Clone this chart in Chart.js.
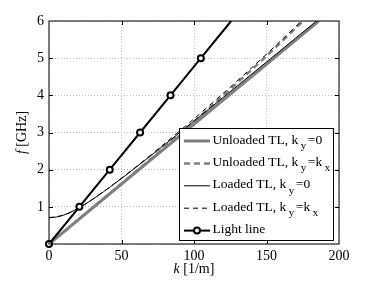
<!DOCTYPE html>
<html>
<head>
<meta charset="utf-8">
<script src="https://cdn.jsdelivr.net/npm/chart.js@4.4.0/dist/chart.umd.min.js"></script>
<style>
html, body { margin: 0; padding: 0; background: #fff; }
#wrap { width: 374px; height: 281px; }
</style>
</head>
<body>
<div id="wrap"><canvas id="plot"></canvas></div>
<script>
// --- data ---
const kUnloaded = [0, 186];
const fUnloaded = [0, 6];

const kUnloadedDiag = [0, 20, 40, 60, 80, 100, 120, 140, 160, 176];
const fUnloadedDiag = [0, 0.646, 1.296, 1.952, 2.616, 3.293, 3.985, 4.696, 5.427, 6.03];

const kLoaded = [0, 5, 10, 15, 20, 25, 30, 40, 50, 60, 70, 80, 100, 120, 140, 160, 180, 186];
const fLoaded = [0.707, 0.725, 0.777, 0.857, 0.958, 1.073, 1.2, 1.473, 1.763, 2.063, 2.369, 2.679, 3.307, 3.94, 4.577, 5.216, 5.857, 6.049];

const kLoadedDiag = [0, 10, 20, 30, 40, 60, 80, 100, 120, 140, 160, 176];
const fLoadedDiag = [0.707, 0.777, 0.958, 1.201, 1.476, 2.076, 2.71, 3.368, 4.047, 4.749, 5.473, 6.071];

const kLight = [0, 20.94, 41.89, 62.83, 83.78, 104.72, 125.66];
const fLight = [0, 1, 2, 3, 4, 5, 6];

const seriesNames = [
    'Unloaded TL, k_y=0',
    'Unloaded TL, k_y=k_x',
    'Loaded TL, k_y=0',
    'Loaded TL, k_y=k_x',
    'Light line'
];

const SERIF = '"Liberation Serif", "Times New Roman", serif';
const GRAY = '#7f7f7f';

function toPoints(xs, ys) {
    return xs.map((x, i) => ({ x: x, y: ys[i] }));
}

// text with "_c" subscripts, left aligned at x, vertically centred at y
function drawRich(ctx, str, x, y) {
    const parts = str.split(/_(.)/);
    ctx.textBaseline = 'middle';
    ctx.textAlign = 'left';
    parts.forEach((p, i) => {
        if (i % 2 === 0) {
            ctx.font = '13.5px ' + SERIF;
            ctx.fillText(p, x, y);
            x += ctx.measureText(p).width;
        } else {
            x += 2.5;
            ctx.font = '11px ' + SERIF;
            ctx.fillText(p, x, y + 6);
            x += ctx.measureText(p).width + 1.5;
        }
    });
}

const extrasPlugin = {
    id: 'extras',
    afterDraw(chart) {
        const { ctx, chartArea: a, scales } = chart;
        const xs = scales.x, ys = scales.y;
        ctx.save();

        // axes box + inward ticks
        ctx.strokeStyle = '#000';
        ctx.lineWidth = 1;
        ctx.strokeRect(a.left, a.top, a.right - a.left, a.bottom - a.top);
        ctx.beginPath();
        [50, 100, 150].forEach(v => {
            const px = Math.round(xs.getPixelForValue(v)) + 0.5;
            ctx.moveTo(px, a.bottom); ctx.lineTo(px, a.bottom - 4);
            ctx.moveTo(px, a.top); ctx.lineTo(px, a.top + 4);
        });
        [1, 2, 3, 4, 5].forEach(v => {
            const py = Math.round(ys.getPixelForValue(v)) + 0.5;
            ctx.moveTo(a.left, py); ctx.lineTo(a.left + 4, py);
            ctx.moveTo(a.right, py); ctx.lineTo(a.right - 4, py);
        });
        ctx.stroke();

        // axis titles, italic variable + upright unit
        ctx.fillStyle = '#000';
        ctx.textBaseline = 'middle';
        ctx.textAlign = 'left';
        const title = (sym, unit, cx, cy, rot) => {
            ctx.save();
            ctx.translate(cx, cy);
            ctx.rotate(rot);
            ctx.font = 'italic 14px ' + SERIF;
            const w1 = ctx.measureText(sym).width;
            ctx.font = '14px ' + SERIF;
            const w2 = ctx.measureText(unit).width;
            let x0 = -(w1 + w2) / 2;
            ctx.font = 'italic 14px ' + SERIF;
            ctx.fillText(sym, x0, 0);
            ctx.font = '14px ' + SERIF;
            ctx.fillText(unit, x0 + w1, 0);
            ctx.restore();
        };
        title('k', ' [1/m]', (a.left + a.right) / 2, 269, 0);
        title('f', ' [GHz]', 22, (a.top + a.bottom) / 2, -Math.PI / 2);

        // legend
        const lx = 179, ly = 128, lw = 154, lh = 112;
        ctx.fillStyle = '#fff';
        ctx.fillRect(lx, ly, lw, lh);
        ctx.strokeStyle = '#000';
        ctx.lineWidth = 1;
        ctx.strokeRect(lx + 0.5, ly + 0.5, lw, lh);
        chart.data.datasets.forEach((ds, i) => {
            const cy = 140 + i * 22.4;
            ctx.save();
            ctx.strokeStyle = ds.borderColor;
            ctx.lineWidth = ds.borderWidth;
            ctx.setLineDash(ds.borderDash || []);
            ctx.beginPath();
            ctx.moveTo(184, cy + 1);
            ctx.lineTo(210, cy + 1);
            ctx.stroke();
            if (ds.pointStyleLegend) {
                ctx.setLineDash([]);
                ctx.fillStyle = '#fff';
                ctx.lineWidth = 2;
                ctx.beginPath();
                ctx.arc(197, cy + 1, 3, 0, Math.PI * 2);
                ctx.fill();
                ctx.stroke();
            }
            ctx.restore();
            ctx.fillStyle = '#000';
            drawRich(ctx, ds.label, 212.5, cy);
        });

        ctx.restore();
    }
};

new Chart(document.getElementById('plot'), {
    type: 'line',
    data: {
        datasets: [
            {
                label: seriesNames[0],
                data: toPoints(kUnloaded, fUnloaded),
                borderColor: GRAY, borderWidth: 3,
                pointRadius: 0, order: 5
            },
            {
                label: seriesNames[1],
                data: toPoints(kUnloadedDiag, fUnloadedDiag),
                borderColor: GRAY, borderWidth: 2.5, borderDash: [6, 4],
                pointRadius: 0, order: 4
            },
            {
                label: seriesNames[2],
                data: toPoints(kLoaded, fLoaded),
                borderColor: '#000', borderWidth: 1, tension: 0.3,
                pointRadius: 0, order: 3
            },
            {
                label: seriesNames[3],
                data: toPoints(kLoadedDiag, fLoadedDiag),
                borderColor: '#000', borderWidth: 1, borderDash: [5, 4], tension: 0.3,
                pointRadius: 0, order: 2
            },
            {
                label: seriesNames[4],
                data: toPoints(kLight, fLight),
                borderColor: '#000', borderWidth: 2,
                pointRadius: [3, 3, 3, 3, 3, 3, 0],
                pointBorderWidth: 2, pointBackgroundColor: '#fff', pointBorderColor: '#000',
                pointStyleLegend: true,
                clip: 8, order: 1
            }
        ]
    },
    options: {
        responsive: true,
        maintainAspectRatio: false,
        animation: false,
        layout: { padding: { top: 21, right: 35, left: 0, bottom: 0 } },
        plugins: {
            legend: { display: false },
            tooltip: { enabled: false }
        },
        scales: {
            x: {
                type: 'linear',
                min: 0, max: 200,
                afterFit: s => { s.height = 37; },
                ticks: { stepSize: 50, color: '#000', padding: 4, font: { family: SERIF, size: 14 } },
                grid: { color: '#bdbdbd', drawTicks: false },
                border: { display: false, dash: [1, 2] }
            },
            y: {
                type: 'linear',
                min: 0, max: 6,
                afterFit: s => { s.width = 49; },
                ticks: {
                    stepSize: 1, color: '#000', padding: 5,
                    font: { family: SERIF, size: 14 },
                    callback: v => (v === 0 ? '' : v)
                },
                grid: { color: '#bdbdbd', drawTicks: false },
                border: { display: false, dash: [1, 2] }
            }
        }
    },
    plugins: [extrasPlugin]
});
</script>
</body>
</html>
